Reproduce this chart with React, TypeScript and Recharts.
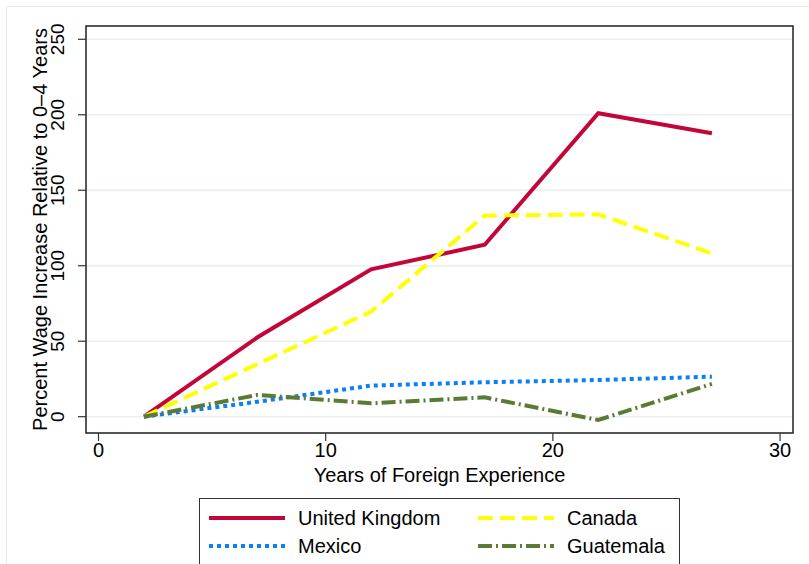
import React from 'react'
import { LineChart, Line, XAxis, YAxis, CartesianGrid, ReferenceArea } from 'recharts'

const years = [2, 7, 12, 17, 22, 27]
const unitedKingdom = [0, 52.6, 97.6, 113.9, 201, 187.7]
const canada = [0, 34.9, 69.6, 133.2, 134, 108.2]
const mexico = [0, 9.9, 20.6, 22.8, 24.3, 26.5]
const guatemala = [0, 14.4, 8.9, 12.8, -2.2, 21.7]

const xTicks = [0, 10, 20, 30]
const yTicks = [0, 50, 100, 150, 200, 250]

const FONT = '"Liberation Sans", Arial, Helvetica, sans-serif'

const series = [
  { key: 'uk', name: 'United Kingdom', color: '#c2063a', dash: undefined as string | undefined },
  { key: 'canada', name: 'Canada', color: '#ffff00', dash: '15 7' },
  { key: 'mexico', name: 'Mexico', color: '#0a80f5', dash: '4 4' },
  { key: 'guatemala', name: 'Guatemala', color: '#5b7a33', dash: '14 4 2 4' },
]

const data = years.map((x, i) => ({
  x,
  uk: unitedKingdom[i],
  canada: canada[i],
  mexico: mexico[i],
  guatemala: guatemala[i],
}))

const YTick = ({ x, y, payload }: any) => (
  <text
    x={x - 18}
    y={y}
    transform={`rotate(-90, ${x - 18}, ${y})`}
    textAnchor="middle"
    dominantBaseline="central"
    fontSize={19}
    fill="#000"
    fontFamily={FONT}
  >
    {payload.value}
  </text>
)

const YTitle = ({ viewBox }: any) => {
  const cx = viewBox.x + 40
  const cy = viewBox.y + viewBox.height / 2
  return (
    <text
      x={cx}
      y={cy}
      transform={`rotate(-90, ${cx}, ${cy})`}
      textAnchor="middle"
      dominantBaseline="central"
      fontSize={20}
      fill="#000"
      fontFamily={FONT}
    >
      Percent Wage Increase Relative to 0–4 Years
    </text>
  )
}

function LegendBox() {
  // two columns: UK / Canada on top, Mexico / Guatemala below
  const pos = [
    { x: 9, y: 19 },
    { x: 278, y: 19 },
    { x: 9, y: 47 },
    { x: 278, y: 47 },
  ]
  return (
    <div
      style={{
        position: 'absolute',
        left: 199,
        top: 498,
        width: 481,
        height: 80,
        border: '1px solid #333',
        boxSizing: 'border-box',
        background: '#fff',
      }}
    >
      <svg width={481} height={80} style={{ display: 'block' }}>
        {series.map((s, i) => (
          <g key={s.key}>
            <line
              x1={pos[i].x}
              x2={pos[i].x + 76}
              y1={pos[i].y}
              y2={pos[i].y}
              stroke={s.color}
              strokeWidth={4}
              strokeDasharray={s.dash}
            />
            <text
              x={pos[i].x + 89}
              y={pos[i].y}
              dominantBaseline="central"
              fontSize={20}
              fontFamily={FONT}
              fill="#000"
            >
              {s.name}
            </text>
          </g>
        ))}
      </svg>
    </div>
  )
}

export default function App() {
  return (
    <div
      style={{
        position: 'absolute',
        left: 0,
        top: 0,
        width: 809,
        height: 564,
        overflow: 'hidden',
        background: '#fff',
        fontFamily: FONT,
      }}
    >
      <div
        style={{
          position: 'absolute',
          left: 6,
          top: 6,
          width: 820,
          height: 600,
          border: '1px solid #e4ecee',
        }}
      />
      <LineChart
        width={809}
        height={564}
        data={data}
        margin={{ top: 26, right: 16, left: 0, bottom: 81 }}
        style={{ position: 'absolute', left: 0, top: 0 }}
      >
        <CartesianGrid vertical={false} stroke="#e8f0f1" strokeWidth={1.5} />
        <XAxis
          dataKey="x"
          type="number"
          domain={[-0.55, 30.57]}
          ticks={xTicks}
          allowDataOverflow
          height={50}
          tickSize={8}
          tickMargin={2}
          axisLine={false}
          tickLine={{ stroke: '#333', strokeWidth: 1.2 }}
          tick={{ fill: '#000', fontSize: 20, fontFamily: FONT }}
          label={{
            value: 'Years of Foreign Experience',
            position: 'insideBottom',
            offset: 1,
            fill: '#000',
            fontSize: 20,
            fontFamily: FONT,
          }}
        />
        <YAxis
          type="number"
          domain={[-10.8, 258.8]}
          ticks={yTicks}
          allowDataOverflow
          width={86}
          tickSize={8}
          axisLine={false}
          tickLine={{ stroke: '#333', strokeWidth: 1.2 }}
          tick={<YTick />}
          label={<YTitle />}
        />
        <ReferenceArea
          x1={-0.55}
          x2={30.57}
          y1={-10.8}
          y2={258.8}
          fill="none"
          fillOpacity={0}
          stroke="#222"
          strokeWidth={1.5}
          ifOverflow="visible"
        />
        {series.map((s) => (
          <Line
            key={s.key}
            dataKey={s.key}
            name={s.name}
            type="linear"
            stroke={s.color}
            strokeWidth={4}
            strokeDasharray={s.dash}
            dot={false}
            activeDot={false}
            isAnimationActive={false}
          />
        ))}
      </LineChart>
      <LegendBox />
    </div>
  )
}
